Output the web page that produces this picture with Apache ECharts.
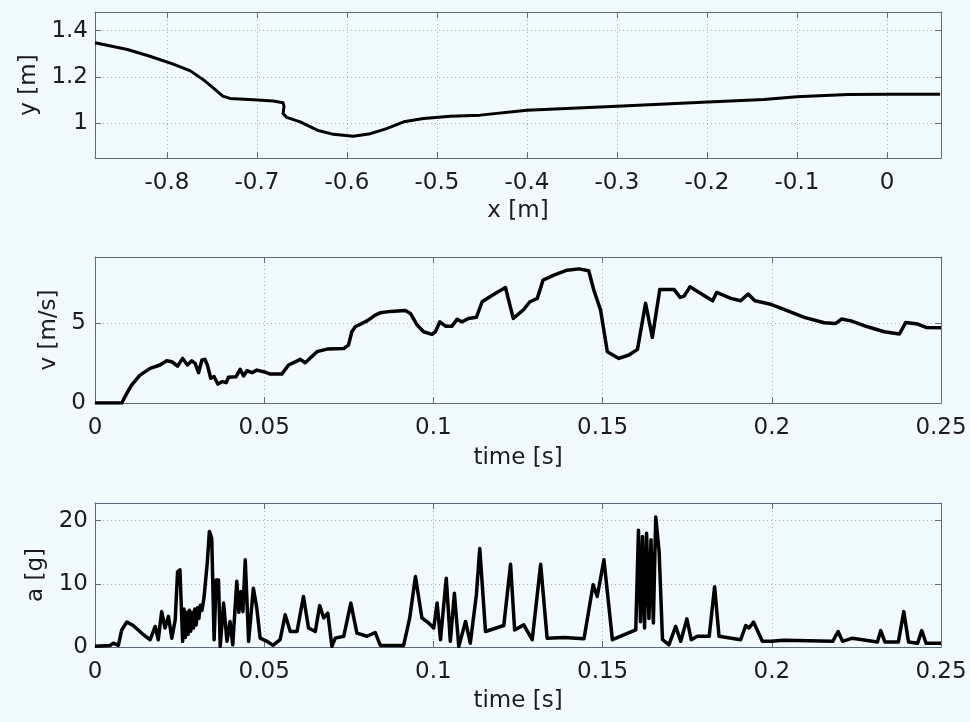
<!DOCTYPE html>
<html>
<head>
<meta charset="utf-8">
<script src="https://cdn.jsdelivr.net/npm/echarts@6/dist/echarts.min.js"></script>
<style>
html, body { margin: 0; padding: 0; background: #f0faff; }
#chart { width: 970px; height: 722px; }
</style>
</head>
<body>
<div id="chart"></div>
<script>
// path of the object: position x [m] vs y [m]
var posX = [-0.88, -0.844, -0.819, -0.793, -0.774, -0.759, -0.748, -0.738, -0.73, -0.704, -0.682, -0.671, -0.670, -0.671, -0.667, -0.652, -0.633, -0.615, -0.593, -0.574, -0.556, -0.537, -0.515, -0.485, -0.452, -0.4, -0.3, -0.199, -0.137, -0.1, -0.044, 0, 0.059];
var posY = [1.347, 1.318, 1.289, 1.255, 1.226, 1.186, 1.15, 1.117, 1.107, 1.101, 1.096, 1.088, 1.073, 1.042, 1.025, 1.006, 0.97, 0.952, 0.944, 0.955, 0.977, 1.006, 1.02, 1.03, 1.035, 1.056, 1.073, 1.092, 1.102, 1.114, 1.124, 1.125, 1.125];

// velocity over time
var velT = [0, 0.0079, 0.0094, 0.0108, 0.0133, 0.0163, 0.0192, 0.0212, 0.0227, 0.0244, 0.0259, 0.0273, 0.0286, 0.0296, 0.0306, 0.0316, 0.0325, 0.0332, 0.0342, 0.0352, 0.0363, 0.0375, 0.0388, 0.0394, 0.0417, 0.0429, 0.0439, 0.0449, 0.0464, 0.0478, 0.0498, 0.0518, 0.0552, 0.0572, 0.0607, 0.0621, 0.0656, 0.0686, 0.0735, 0.0749, 0.0759, 0.0769, 0.0804, 0.0828, 0.0843, 0.0873, 0.0917, 0.0932, 0.0952, 0.0971, 0.0996, 0.1006, 0.1019, 0.1036, 0.1055, 0.107, 0.1085, 0.1104, 0.1127, 0.1144, 0.1174, 0.1213, 0.1236, 0.1267, 0.1285, 0.1307, 0.1324, 0.1356, 0.1395, 0.143, 0.1459, 0.1474, 0.1494, 0.1514, 0.1548, 0.1578, 0.1603, 0.1627, 0.1647, 0.1669, 0.1711, 0.1729, 0.1741, 0.1758, 0.179, 0.1825, 0.1837, 0.1879, 0.1908, 0.193, 0.195, 0.1997, 0.2036, 0.2096, 0.2155, 0.2189, 0.2206, 0.2234, 0.2283, 0.2332, 0.2377, 0.2396, 0.2431, 0.2456, 0.25];
var velV = [0, 0, 0.6, 1.12, 1.74, 2.16, 2.37, 2.63, 2.57, 2.3, 2.78, 2.37, 2.63, 2.47, 1.89, 2.68, 2.72, 2.37, 1.54, 1.64, 1.18, 1.33, 1.27, 1.6, 1.64, 2.1, 1.68, 2.01, 1.89, 2.05, 1.95, 1.8, 1.8, 2.37, 2.72, 2.51, 3.2, 3.36, 3.4, 3.61, 4.44, 4.75, 5.12, 5.48, 5.62, 5.71, 5.77, 5.58, 4.86, 4.44, 4.28, 4.44, 5.06, 4.79, 4.79, 5.21, 5.06, 5.27, 5.34, 6.31, 6.72, 7.2, 5.27, 5.83, 6.31, 6.52, 7.66, 7.97, 8.28, 8.36, 8.24, 7.04, 5.79, 3.19, 2.78, 2.99, 3.34, 6.21, 4.09, 7.08, 7.08, 6.58, 6.66, 7.24, 6.83, 6.37, 6.89, 6.52, 6.37, 6.79, 6.37, 6.15, 5.83, 5.34, 5.0, 4.96, 5.23, 5.12, 4.75, 4.44, 4.3, 5.02, 4.92, 4.71, 4.69];

// acceleration over time
var accT = [0, 0.0044, 0.0054, 0.0069, 0.0079, 0.0094, 0.0113, 0.0143, 0.0163, 0.0178, 0.0187, 0.0197, 0.0207, 0.0217, 0.0227, 0.0237, 0.0244, 0.0251, 0.0259, 0.0263, 0.0267, 0.0271, 0.0275, 0.0279, 0.0283, 0.0287, 0.0291, 0.0295, 0.0299, 0.0303, 0.0307, 0.0311, 0.0316, 0.0322, 0.0332, 0.0338, 0.0345, 0.0352, 0.0358, 0.0365, 0.037, 0.038, 0.039, 0.0399, 0.0407, 0.0419, 0.0425, 0.0431, 0.0437, 0.0444, 0.0454, 0.0468, 0.0478, 0.0488, 0.0508, 0.0526, 0.0547, 0.0562, 0.0577, 0.0597, 0.0616, 0.0631, 0.0651, 0.0664, 0.0676, 0.0688, 0.07, 0.071, 0.0735, 0.0756, 0.0774, 0.0804, 0.0828, 0.0843, 0.0912, 0.093, 0.0947, 0.0966, 0.0986, 0.1001, 0.1011, 0.1021, 0.1038, 0.105, 0.1062, 0.1075, 0.1095, 0.1109, 0.1127, 0.1137, 0.1154, 0.1208, 0.1228, 0.124, 0.1267, 0.1292, 0.1317, 0.1336, 0.1386, 0.1445, 0.1472, 0.1484, 0.1504, 0.1529, 0.1598, 0.1606, 0.1612, 0.1618, 0.1624, 0.163, 0.1637, 0.1643, 0.165, 0.1657, 0.1667, 0.1677, 0.1696, 0.1716, 0.1731, 0.1749, 0.1762, 0.178, 0.1815, 0.1831, 0.1844, 0.1908, 0.1923, 0.1933, 0.1946, 0.1972, 0.1997, 0.2036, 0.218, 0.2196, 0.2209, 0.2238, 0.2312, 0.2322, 0.2334, 0.2374, 0.239, 0.2404, 0.2431, 0.2443, 0.2456, 0.25];
var accA = [0.1, 0.25, 0.6, 0.25, 2.7, 3.95, 3.4, 1.95, 1.15, 3.25, 1.15, 5.6, 3.0, 4.85, 1.4, 4.3, 11.9, 12.2, 0.9, 6.0, 1.5, 5.5, 2.0, 5.8, 2.5, 5.5, 3.0, 6.0, 3.5, 6.2, 4.5, 6.6, 5.8, 7.75, 13.5, 18.3, 17.2, 1.15, 10.6, 10.6, 0.1, 6.95, 0.9, 4.05, 0.35, 10.4, 5.5, 8.8, 5.6, 13.8, 0.9, 9.3, 6.2, 1.4, 0.9, 0.25, 1.15, 5.1, 2.45, 2.45, 8.0, 3.0, 2.45, 6.55, 4.6, 5.35, 0.1, 1.4, 1.7, 6.95, 2.2, 1.7, 2.3, 0.25, 0.25, 4.6, 11.15, 4.6, 3.8, 3.0, 6.95, 1.15, 10.9, 0.9, 8.5, 0.1, 4.05, 0.6, 8.25, 15.6, 2.45, 3.4, 13.1, 2.7, 3.5, 1.15, 13.1, 1.4, 1.5, 1.3, 9.85, 8.0, 13.8, 1.15, 2.7, 18.5, 4.0, 17.5, 3.0, 18.0, 4.5, 17.0, 3.8, 20.6, 15.1, 1.15, 0.35, 3.25, 0.9, 4.45, 1.15, 1.7, 1.7, 9.55, 1.7, 1.15, 3.4, 3.0, 3.95, 0.9, 0.9, 1.05, 0.9, 2.45, 0.9, 1.4, 0.8, 2.6, 0.8, 0.8, 5.6, 0.8, 0.6, 2.6, 0.6, 0.6];

// tick values
var posXTicks = [-0.8, -0.7, -0.6, -0.5, -0.4, -0.3, -0.2, -0.1, 0];
var posYTicks = [1, 1.2, 1.4];
var timeTicks = [0, 0.05, 0.1, 0.15, 0.2, 0.25];
var velTicks = [0, 5];
var accTicks = [0, 10, 20];

var fontFam = '"DejaVu Sans", Verdana, sans-serif';
var txtColor = '#1c1c1c';
var boxColor = '#5d6b7c';
var gridColor = '#98b0d4';

function pairs(xs, ys) {
	var out = [];
	for (var i = 0; i < xs.length; i++) {
		out.push([xs[i], ys[i]]);
	}
	return out;
}

// one axis with labels (bottom / left), one mirror axis (top / right) for the box and ticks
function mainAxis(gi, pos, min, max, ticks, name, nameGap, labelMargin) {
	return {
		type: 'value',
		gridIndex: gi,
		position: pos,
		min: min,
		max: max,
		name: name,
		nameLocation: 'middle',
		nameGap: nameGap,
		nameTextStyle: { fontFamily: fontFam, fontSize: 23, color: txtColor },
		axisLine: { show: true, onZero: false, lineStyle: { color: boxColor, width: 1 } },
		axisTick: { show: true, inside: true, length: 6, customValues: ticks, lineStyle: { color: boxColor } },
		axisLabel: { show: true, customValues: ticks, margin: labelMargin, fontFamily: fontFam, fontSize: 23, color: txtColor },
		splitLine: { show: true, lineStyle: { type: [1, 3], color: gridColor, width: 1 } }
	};
}

function mirrorAxis(gi, pos, min, max, ticks) {
	return {
		type: 'value',
		gridIndex: gi,
		position: pos,
		min: min,
		max: max,
		axisLine: { show: true, onZero: false, lineStyle: { color: boxColor, width: 1 } },
		axisTick: { show: true, inside: true, length: 6, customValues: ticks, lineStyle: { color: boxColor } },
		axisLabel: { show: false },
		splitLine: { show: false }
	};
}

function lineSeries(idx, data, w) {
	return {
		type: 'line',
		xAxisIndex: idx,
		yAxisIndex: idx,
		data: data,
		showSymbol: false,
		symbol: 'none',
		smooth: false,
		lineStyle: { color: '#000', width: w, join: 'round' },
		silent: true,
		animation: false
	};
}

var option = {
	backgroundColor: '#f0faff',
	animation: false,
	grid: [
		{ left: 95, top: 12, width: 846, height: 146, outerBoundsMode: 'none' },
		{ left: 95, top: 257, width: 846, height: 146, outerBoundsMode: 'none' },
		{ left: 95, top: 503, width: 846, height: 144, outerBoundsMode: 'none' }
	],
	xAxis: [
		mainAxis(0, 'bottom', -0.88, 0.06, posXTicks, 'x [m]', 42, 14),
		mirrorAxis(0, 'top', -0.88, 0.06, posXTicks),
		mainAxis(1, 'bottom', 0, 0.25, timeTicks, 'time [s]', 44, 14),
		mirrorAxis(1, 'top', 0, 0.25, timeTicks),
		mainAxis(2, 'bottom', 0, 0.25, timeTicks, 'time [s]', 43, 14),
		mirrorAxis(2, 'top', 0, 0.25, timeTicks)
	],
	yAxis: [
		mainAxis(0, 'left', 0.85, 1.48, posYTicks, 'y [m]', 53, 7),
		mirrorAxis(0, 'right', 0.85, 1.48, posYTicks),
		mainAxis(1, 'left', 0, 9.1, velTicks, 'v [m/s]', 29, 9),
		mirrorAxis(1, 'right', 0, 9.1, velTicks),
		mainAxis(2, 'left', 0, 22.8, accTicks, 'a [g]', 45, 7),
		mirrorAxis(2, 'right', 0, 22.8, accTicks)
	],
	series: [
		lineSeries(0, pairs(posX, posY), 3),
		lineSeries(2, pairs(velT, velV), 3.5),
		lineSeries(4, pairs(accT, accA), 3.5)
	]
};

var chart = echarts.init(document.getElementById('chart'));
chart.setOption(option);
</script>
</body>
</html>
